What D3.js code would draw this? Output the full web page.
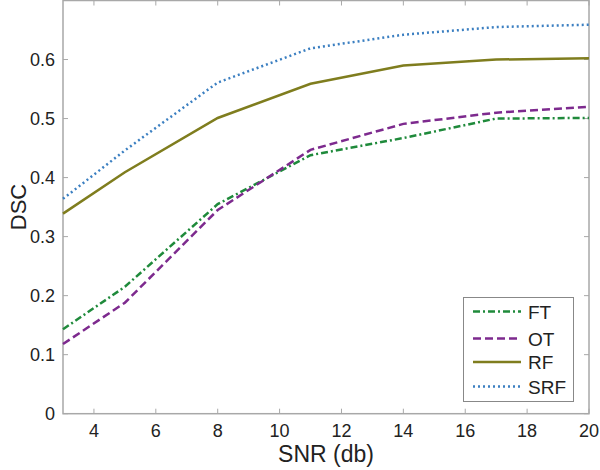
<!DOCTYPE html>
<html>
<head>
<meta charset="utf-8">
<script src="https://cdn.jsdelivr.net/npm/d3@7"></script>
<style>
  body { margin: 0; background: #fff; }
  text { font-family: "Liberation Sans", Arial, sans-serif; fill: #222; }
</style>
</head>
<body>
<svg id="chart" width="600" height="470"></svg>
<script>
// SNR values on the x axis
const snr = [3, 5, 8, 11, 14, 17, 20];
// DSC per method
const ft = [0.143, 0.215, 0.355, 0.438, 0.467, 0.500, 0.501];
const ot = [0.118, 0.188, 0.345, 0.447, 0.491, 0.510, 0.520];
const rf = [0.339, 0.409, 0.501, 0.559, 0.590, 0.600, 0.602];
const srf = [0.364, 0.446, 0.561, 0.619, 0.642, 0.655, 0.659];
const xTicks = [4, 6, 8, 10, 12, 14, 16, 18, 20];
const yTicks = [0, 0.1, 0.2, 0.3, 0.4, 0.5, 0.6];

const series = [
  { name: 'FT', values: ft, color: '#1f8a3b', dash: '7,3,2,3' },
  { name: 'OT', values: ot, color: '#7d2a8e', dash: '8,4' },
  { name: 'RF', values: rf, color: '#7f7d1e', dash: null },
  { name: 'SRF', values: srf, color: '#3b7fc1', dash: '2,3' }
];

const svg = d3.select('#chart');
const plotLeft = 63, plotRight = 589, plotTop = 0.5, plotBottom = 413.7;

const x = d3.scaleLinear().domain([3, 20]).range([plotLeft, plotRight]);
const y = d3.scaleLinear().domain([0, 0.7]).range([plotBottom, plotTop]);

const axisColor = '#a8a8a8';

// frame
svg.append('rect')
  .attr('x', plotLeft).attr('y', plotTop)
  .attr('width', plotRight - plotLeft).attr('height', plotBottom - plotTop)
  .attr('fill', 'none').attr('stroke', axisColor).attr('stroke-width', 1.5);

// inward ticks, matlab style
let tk = svg.append('g').attr('stroke', axisColor).attr('stroke-width', 1);
xTicks.forEach(t => {
  tk.append('line').attr('x1', x(t)).attr('x2', x(t)).attr('y1', plotBottom).attr('y2', plotBottom - 5);
  tk.append('line').attr('x1', x(t)).attr('x2', x(t)).attr('y1', plotTop).attr('y2', plotTop + 5);
});
yTicks.forEach(t => {
  tk.append('line').attr('x1', plotLeft).attr('x2', plotLeft + 5).attr('y1', y(t)).attr('y2', y(t));
  tk.append('line').attr('x1', plotRight).attr('x2', plotRight - 5).attr('y1', y(t)).attr('y2', y(t));
});

svg.append('g').selectAll('text').data(xTicks).enter().append('text')
  .attr('x', d => x(d)).attr('y', 437)
  .attr('text-anchor', 'middle').style('font-size', '18px')
  .text(d => d);

svg.append('g').selectAll('text').data(yTicks).enter().append('text')
  .attr('x', 55).attr('y', d => y(d) + 6.5)
  .attr('text-anchor', 'end').style('font-size', '18px')
  .text(d => d === 0 ? '0' : d.toFixed(1));

svg.append('text')
  .attr('x', 326).attr('y', 462)
  .attr('text-anchor', 'middle').style('font-size', '23px')
  .text('SNR (db)');

svg.append('text')
  .attr('transform', 'translate(26,207) rotate(-90)')
  .attr('text-anchor', 'middle').style('font-size', '22px')
  .text('DSC');

const line = d3.line().x((d, i) => x(snr[i])).y(d => y(d));

svg.append('g').selectAll('path').data(series).enter().append('path')
  .attr('d', d => line(d.values))
  .attr('fill', 'none')
  .attr('stroke', d => d.color)
  .attr('stroke-width', 2.5)
  .attr('stroke-dasharray', d => d.dash);

// legend
let legend = svg.append('g');
legend.append('rect')
  .attr('x', 463.5).attr('y', 297.5).attr('width', 110).attr('height', 104)
  .attr('fill', '#fff').attr('stroke', '#888').attr('stroke-width', 1);
const legendY = [311.5, 338.5, 362, 386.5];
series.forEach((s, i) => {
  legend.append('line')
    .attr('x1', 473).attr('x2', 521)
    .attr('y1', legendY[i]).attr('y2', legendY[i])
    .attr('stroke', s.color).attr('stroke-width', 2.5)
    .attr('stroke-dasharray', s.dash);
  legend.append('text')
    .attr('x', 528).attr('y', legendY[i] + 7)
    .style('font-size', '19px')
    .text(s.name);
});
</script>
</body>
</html>
